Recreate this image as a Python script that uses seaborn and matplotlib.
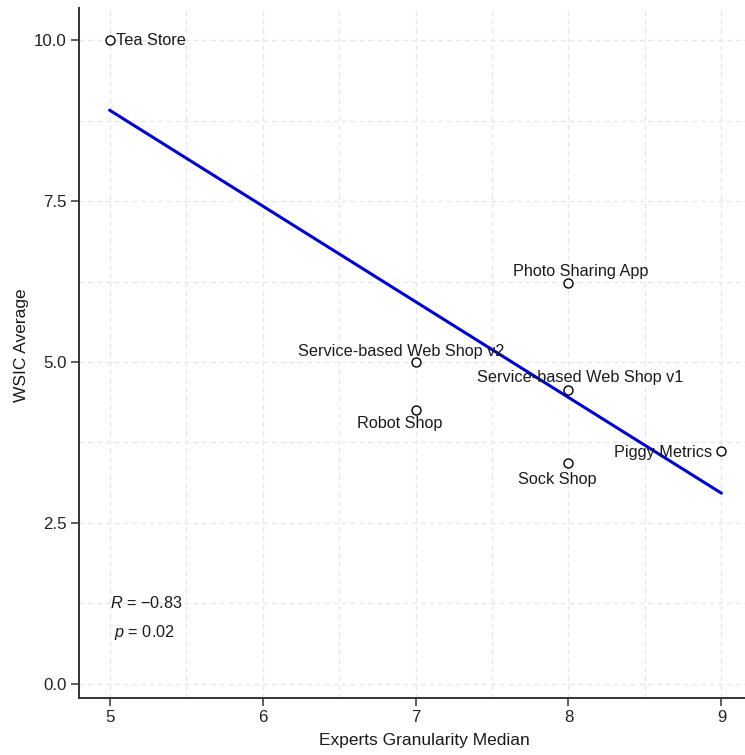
import matplotlib
matplotlib.use("Agg")
import matplotlib.pyplot as plt
import seaborn as sns
import pandas as pd

# Microservice systems: expert-judged granularity vs. WSIC average
systems = ["Tea Store", "Photo Sharing App", "Service-based Web Shop v2",
           "Service-based Web Shop v1", "Robot Shop", "Sock Shop", "Piggy Metrics"]
granularity_median = [5, 8, 7, 8, 7, 8, 9]
wsic_average = [10.0, 6.23, 5.0, 4.57, 4.26, 3.43, 3.61]

x_ticks = [5, 6, 7, 8, 9]
y_ticks = [0.0, 2.5, 5.0, 7.5, 10.0]
y_tick_labels = ["0.0", "2.5", "5.0", "7.5", "10.0"]
r_label = r"$R$ = −0.83"
p_label = r"$p$ = 0.02"

# label placement relative to each point (pixels): dx, dy, ha
label_layout = [(6, 0, "left"), (12, 11, "center"), (-14, 11, "center"),
                (12, 12, "center"), (-16, -14, "center"), (-11, -16, "center"),
                (-9, -1, "right")]

df = pd.DataFrame({"system": systems, "median": granularity_median, "wsic": wsic_average})

sns.set_theme(style="white")
plt.rcParams["font.family"] = ["Liberation Sans", "DejaVu Sans"]
plt.rcParams["mathtext.fontset"] = "custom"
plt.rcParams["mathtext.it"] = "Liberation Sans:italic"
plt.rcParams["mathtext.rm"] = "Liberation Sans"

fig = plt.figure(figsize=(7.45, 7.55), dpi=100)
W, H = 745, 755
left, right, top, bottom = 79, 752, 8, 698
ax = fig.add_axes([left / W, 1 - bottom / H, (right - left) / W, (bottom - top) / H])

grid_kw = dict(color="#E6E6E6", linestyle=(0, (4, 3)), linewidth=0.9, zorder=0)
for gx in [4.5 + 0.5 * i for i in range(1, 10)]:
    ax.axvline(gx, **grid_kw)
for gy in [1.25 * i for i in range(0, 9)]:
    ax.axhline(gy, **grid_kw)

sns.regplot(data=df, x="median", y="wsic", ci=None, ax=ax, scatter=False,
            line_kws=dict(color="#0000CC", linewidth=2.2, zorder=2))
sns.scatterplot(data=df, x="median", y="wsic", ax=ax, s=42, facecolor="white",
                edgecolor="black", linewidth=1.0, zorder=3)

for (name, xv, yv), (dx, dy, ha) in zip(zip(systems, granularity_median, wsic_average), label_layout):
    ax.annotate(name, (xv, yv), xytext=(dx, dy), textcoords="offset pixels",
                ha=ha, va="center", fontsize=11.7, color="#1A1A1A", zorder=5)

ax.text(5.24, 1.25, r_label, ha="center", va="center", fontsize=11.7, color="#1A1A1A")
ax.text(5.23, 0.8, p_label, ha="center", va="center", fontsize=11.7, color="#1A1A1A")

ax.set_xlim(4.8, 9.2)
ax.set_ylim(-0.22, 10.5)
ax.set_xticks(x_ticks)
ax.set_yticks(y_ticks)
ax.set_yticklabels(y_tick_labels)
ax.set_xlabel("Experts Granularity Median", fontsize=12.5, color="#1A1A1A")
ax.set_ylabel("WSIC Average", fontsize=12.5, color="#1A1A1A")
ax.xaxis.set_label_coords((424 - left) / (right - left), -0.051)
ax.yaxis.set_label_coords((29 - left) / (right - left), (bottom - 345) / (bottom - top))

for side in ["top", "right"]:
    ax.spines[side].set_visible(False)
for side in ["left", "bottom"]:
    ax.spines[side].set_color("#333333")
    ax.spines[side].set_linewidth(1.4)
ax.tick_params(axis="both", direction="out", length=6, width=1.1, color="#333333",
               labelsize=12.2, labelcolor="#222222", pad=3, bottom=True, left=True)

fig.savefig("out.png", dpi=100)
